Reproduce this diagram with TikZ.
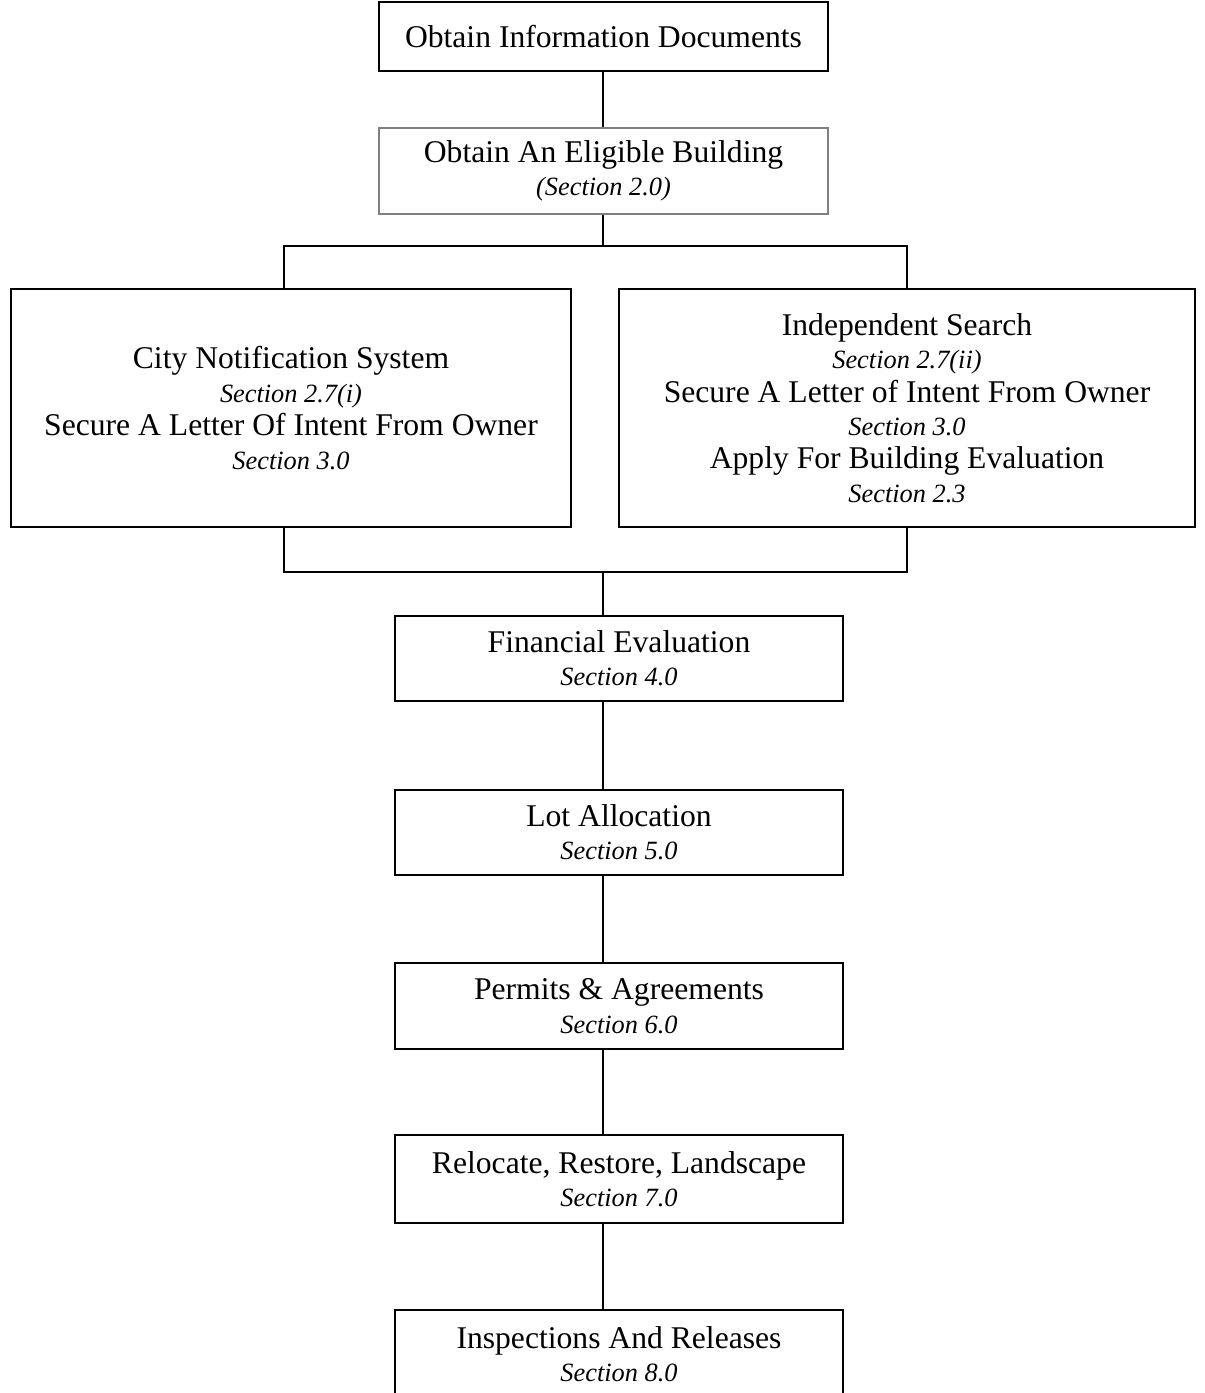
\documentclass[tikz,border=0pt]{standalone}
\usepackage{fontspec}
\setmainfont{Liberation Serif}
\usetikzlibrary{positioning, calc}
\newcommand{\sect}[1]{{\itshape\fontsize{15}{19}\selectfont #1}}

\begin{document}
\begin{tikzpicture}[
	x={(0.02cm,0cm)},
	y={(0cm,-0.02cm)},
	font=\fontsize{18}{19}\selectfont,
	stepbox/.style={draw, line width=1.1pt, align=center, inner sep=0pt},
	greybox/.style={stepbox, draw=black!50, line width=0.7pt},
	link/.style={line width=1.1pt}
	]
	
	\useasboundingbox (0,0) rectangle (1204,1393);
	
	% --------------------------------------------------
	% Top of the chart
	% --------------------------------------------------
	\node[stepbox, minimum width=449*0.02cm, minimum height=69*0.02cm]
	(info) at (603.5,36.5) {Obtain Information Documents};
	
	\node[greybox, minimum width=449*0.02cm, minimum height=86*0.02cm]
	(bldg) at (603.5,171) {Obtain An Eligible Building\\\sect{(Section 2.0)}};
	
	% ==================================================
	% Two ways of finding a building
	% ==================================================
	\node[stepbox, minimum width=560*0.02cm, minimum height=238*0.02cm]
	(city) at (291,408)
	{City Notification System\\\sect{Section 2.7(i)}\\
		Secure A Letter Of Intent From Owner\\\sect{Section 3.0}};
	
	\node[stepbox, minimum width=576*0.02cm, minimum height=238*0.02cm]
	(search) at (907,408)
	{Independent Search\\\sect{Section 2.7(ii)}\\
		Secure A Letter of Intent From Owner\\\sect{Section 3.0}\\
		Apply For Building Evaluation\\\sect{Section 2.3}};
	
	% ==================================================
	% Remaining steps
	% ==================================================
	\node[stepbox, minimum width=448*0.02cm, minimum height=85*0.02cm]
	(fin) at (619,658.5) {Financial Evaluation\\\sect{Section 4.0}};
	
	\node[stepbox, minimum width=448*0.02cm, minimum height=85*0.02cm]
	(lot) at (619,832.5) {Lot Allocation\\\sect{Section 5.0}};
	
	\node[stepbox, minimum width=448*0.02cm, minimum height=86*0.02cm]
	(perm) at (619,1006) {Permits \& Agreements\\\sect{Section 6.0}};
	
	\node[stepbox, minimum width=448*0.02cm, minimum height=88*0.02cm]
	(reloc) at (619,1179) {Relocate, Restore, Landscape\\\sect{Section 7.0}};
	
	\node[stepbox, minimum width=448*0.02cm, minimum height=88*0.02cm]
	(insp) at (619,1354) {Inspections And Releases\\\sect{Section 8.0}};
	
	% ==================================================
	% Connectors
	% ==================================================
	\coordinate (spine) at (603,0);
	\coordinate (legL) at (284,0);
	\coordinate (legR) at (907,0);
	\coordinate (topbar) at (603,246);
	\coordinate (botbar) at (603,572);
	
	\draw[link] (info.south -| spine) -- (bldg.north -| spine);
	\draw[link] (bldg.south -| spine) -- (topbar);
	\draw[link] (legL |- city.north) |- (topbar) -| (legR |- search.north);
	\draw[link] (legL |- city.south) |- (botbar) -| (legR |- search.south);
	\draw[link] (botbar) -- (fin.north -| spine);
	
	\foreach \a/\b in {fin/lot, lot/perm, perm/reloc, reloc/insp}
	\draw[link] (\a.south -| spine) -- (\b.north -| spine);
	
\end{tikzpicture}
\end{document}
